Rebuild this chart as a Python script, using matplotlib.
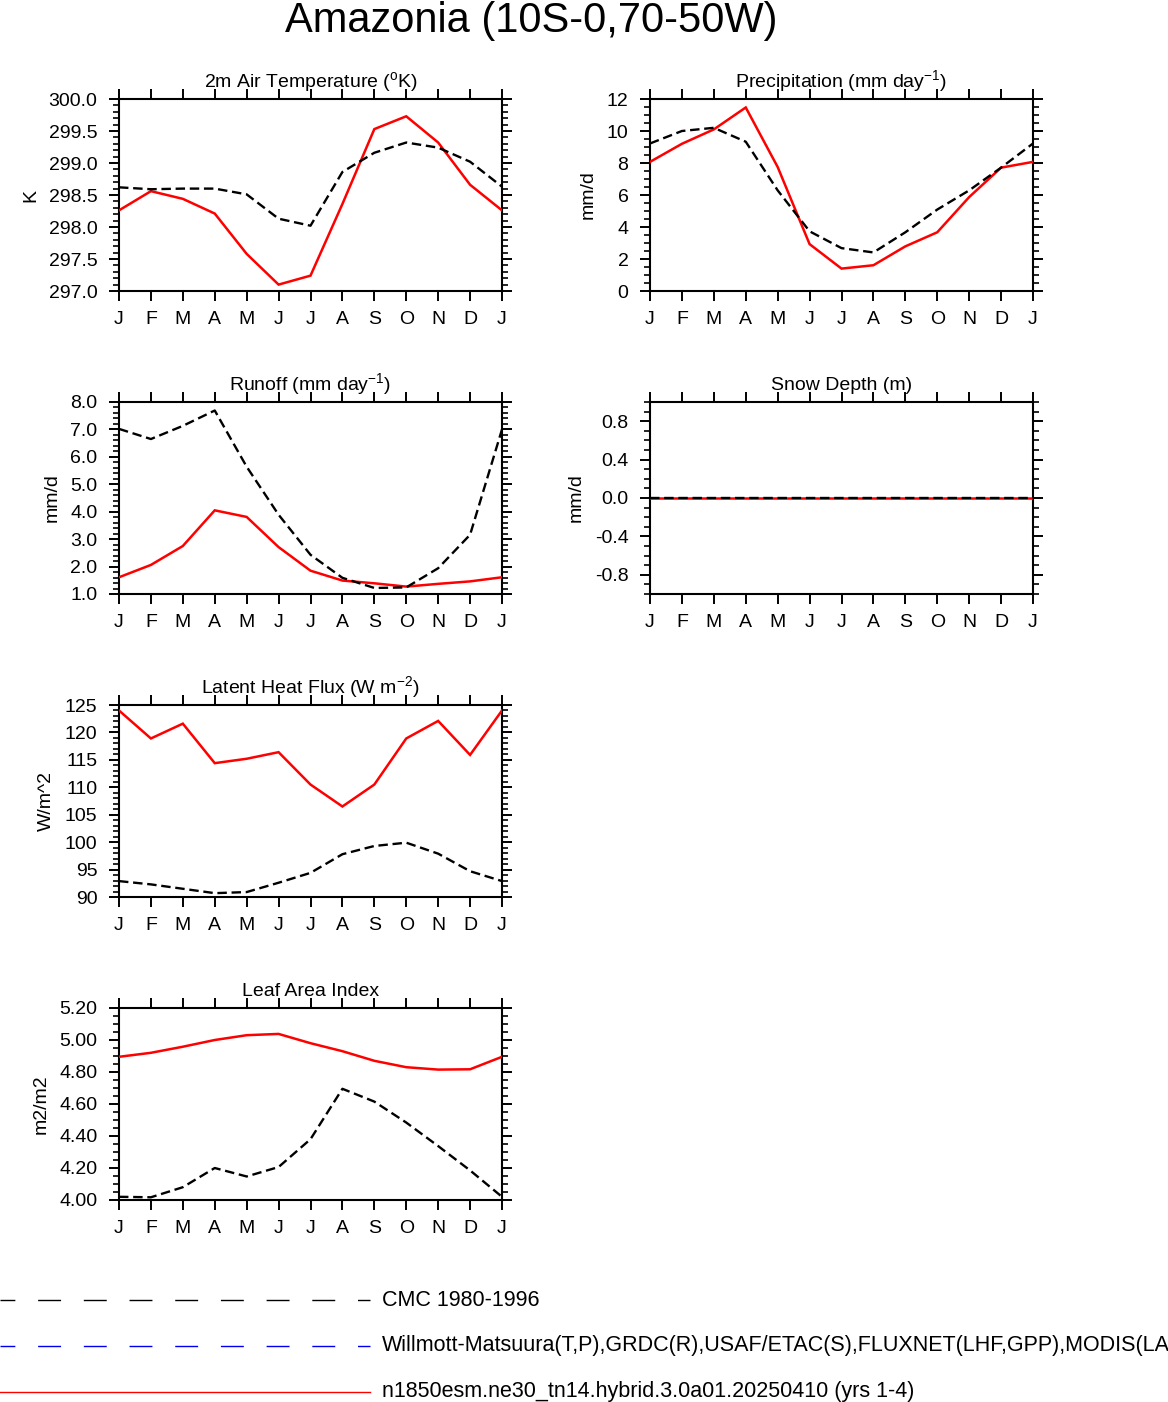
import matplotlib
matplotlib.use("Agg")
import matplotlib.pyplot as plt
from matplotlib.lines import Line2D
from matplotlib.ticker import MultipleLocator, FormatStrFormatter

plt.rcParams['font.family'] = ['Liberation Sans', 'DejaVu Sans']
plt.rcParams['mathtext.fontset'] = 'custom'
plt.rcParams['mathtext.rm'] = 'Liberation Sans'
plt.rcParams['mathtext.it'] = 'Liberation Sans:italic'
plt.rcParams['mathtext.bf'] = 'Liberation Sans:bold'

# month axis, J..J (13 points, last one repeats January)
month_labels = ["J", "F", "M", "A", "M", "J", "J", "A", "S", "O", "N", "D", "J"]
months = list(range(13))

# 2m air temperature (K)
tsa_model = [298.26, 298.56, 298.44, 298.21, 297.58, 297.10, 297.24, 298.36, 299.53, 299.73, 299.32, 298.66, 298.26]
tsa_obs = [298.62, 298.59, 298.60, 298.60, 298.51, 298.13, 298.02, 298.86, 299.16, 299.32, 299.24, 299.02, 298.63]

# precipitation (mm/d)
prec_model = [8.07, 9.20, 10.10, 11.47, 7.75, 2.93, 1.40, 1.61, 2.79, 3.67, 5.87, 7.71, 8.07]
prec_obs = [9.22, 10.00, 10.20, 9.33, 6.29, 3.73, 2.68, 2.41, 3.67, 5.09, 6.29, 7.71, 9.22]

# runoff (mm/d)
runoff_model = [1.61, 2.06, 2.75, 4.05, 3.81, 2.71, 1.85, 1.49, 1.39, 1.27, 1.37, 1.46, 1.61]
runoff_obs = [7.02, 6.65, 7.13, 7.69, 5.64, 3.89, 2.43, 1.59, 1.22, 1.24, 1.94, 3.16, 7.00]

# snow depth (m)
snow_model = [0.0] * 13
snow_obs = [0.0] * 13

# latent heat flux (W/m^2)
lhf_model = [124.0, 118.9, 121.6, 114.4, 115.2, 116.4, 110.5, 106.5, 110.5, 118.9, 122.1, 115.9, 124.0]
lhf_obs = [92.9, 92.3, 91.5, 90.7, 90.9, 92.6, 94.4, 97.8, 99.3, 99.9, 97.9, 94.7, 92.9]

# leaf area index (m2/m2)
lai_model = [4.895, 4.920, 4.958, 5.000, 5.030, 5.038, 4.980, 4.930, 4.870, 4.830, 4.815, 4.817, 4.895]
lai_obs = [4.020, 4.017, 4.080, 4.200, 4.147, 4.206, 4.380, 4.695, 4.615, 4.484, 4.337, 4.185, 4.020]

legend_names = ["CMC 1980-1996",
                "Willmott-Matsuura(T,P),GRDC(R),USAF/ETAC(S),FLUXNET(LHF,GPP),MODIS(LAI)",
                "n1850esm.ne30_tn14.hybrid.3.0a01.20250410 (yrs 1-4)"]
legend_colors = ["black", "#0000ee", "red"]

W, H = 1168, 1402
fig = plt.figure(figsize=(W / 100, H / 100), dpi=100)


def panel(left_px, top_px, title, ylabel, ylim, major, minor, fmt, red, black):
    """Draw one NCL-style panel, position given in pixels"""
    ax = fig.add_axes([left_px / W, 1 - (top_px + 192) / H, 383 / W, 192 / H])
    ax.plot(months, red, color="red", lw=1.8, solid_joinstyle="miter", zorder=3)
    ax.plot(months, black, color="black", lw=1.7, dashes=(4, 2), zorder=4)

    ax.set_xlim(0, 12)
    ax.set_ylim(*ylim)
    ax.set_xticks(months)
    ax.set_xticklabels(month_labels)
    ax.yaxis.set_major_locator(MultipleLocator(major))
    ax.yaxis.set_minor_locator(MultipleLocator(minor))
    ax.yaxis.set_major_formatter(FormatStrFormatter(fmt))

    ax.tick_params(axis="both", which="major", direction="out", length=7.5, width=1.4,
                   labelsize=14, top=True, right=True)
    ax.tick_params(axis="x", which="major", pad=7)
    ax.tick_params(axis="y", which="major", pad=8)
    ax.tick_params(axis="y", which="minor", direction="out", length=4, width=1.2,
                   right=True, left=True)
    for s in ax.spines.values():
        s.set_linewidth(1.5)

    ax.set_ylabel(ylabel, fontsize=14, labelpad=7)
    ax.text(0.5, 1 + 12 / 192, title, transform=ax.transAxes, ha="center",
            va="baseline", fontsize=14)
    return ax


panel(119, 99, r"2m Air Temperature ($^{\mathrm{o}}$K)", "K", (297.0, 300.0), 0.5, 0.1, "%.1f",
      tsa_model, tsa_obs)
panel(650, 99, r"Precipitation (mm day$^{\mathrm{-1}}$)", "mm/d", (0, 12), 2, 0.5, "%d",
      prec_model, prec_obs)
panel(119, 402, r"Runoff (mm day$^{\mathrm{-1}}$)", "mm/d", (1.0, 8.0), 1.0, 0.2, "%.1f",
      runoff_model, runoff_obs)
panel(650, 402, "Snow Depth (m)", "mm/d", (-1.0, 1.0), 0.4, 0.1, "%.1f",
      snow_model, snow_obs)
panel(119, 705, r"Latent Heat Flux (W m$^{\mathrm{-2}}$)", "W/m^2", (90, 125), 5, 1, "%d",
      lhf_model, lhf_obs)
panel(119, 1008, "Leaf Area Index", "m2/m2", (4.0, 5.2), 0.2, 0.05, "%.2f",
      lai_model, lai_obs)

fig.text(531 / W, 1 - 21 / H, "Amazonia (10S-0,70-50W)", ha="center", va="center", fontsize=30)

# legend at the bottom, lines run from the left edge
leg_y = [1300, 1346, 1392]
for i, name in enumerate(legend_names):
    y = 1 - leg_y[i] / H
    ln = Line2D([0, 370 / W], [y, y], color=legend_colors[i], lw=1.0,
                transform=fig.transFigure)
    if i < 2:
        ln.set_linestyle((5.8, (16.5, 16.4)))
    fig.add_artist(ln)
    fig.text(382 / W, y, name, ha="left", va="center", fontsize=15.5)

fig.savefig("out.png", dpi=100)
